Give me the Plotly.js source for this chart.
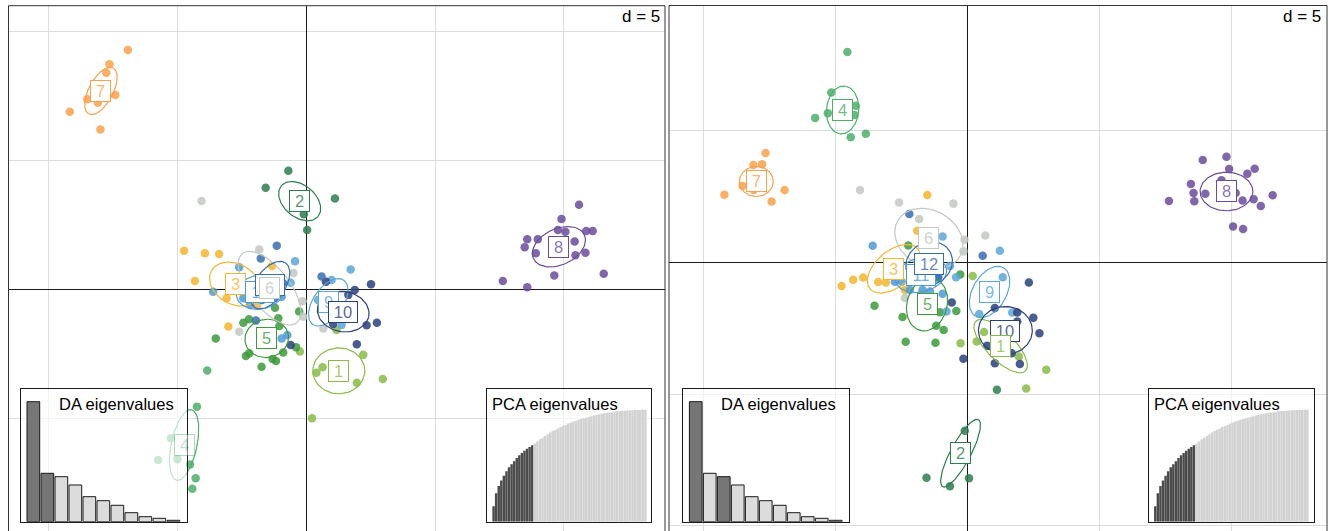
<!DOCTYPE html>
<html><head><meta charset="utf-8">
<script src="https://cdn.plot.ly/plotly-3.0.1.min.js"></script>
<style>html,body{margin:0;padding:0;background:#fff}#chart{width:1328px;height:531px}</style>
</head><body><div id="chart"></div>
<script>
// ---------------- DATA ----------------
const groups = ['1','2','3','4','5','6','7','8','9','10','11','12'];
const groupColors = ['#8abb4a','#2e7d4f','#f2b632','#4fae6b','#3d9a3d','#c2c8c2',
                     '#f8a14e','#6b4c9a','#5ba6d6','#2b3f7a','#4f9ad2','#3a6db0'];

// Left panel: LD1 (x) vs LD2 (y)
const leftX = [
  2.21,2.97,0.63,0.39,1.96,0.22,1.17,-0.25,
  -0.70,-1.58,1.11,-0.10,0.03,
  -4.75,-3.94,-3.39,-4.33,-3.10,-3.03,-1.91,-1.33,
  -4.25,-5.26,-5.76,-5.01,-4.52,-4.30,-4.43,-3.85,
  -1.22,-2.45,-2.23,-1.09,-0.28,-1.05,-3.52,-2.35,-2.22,-1.31,-1.18,-1.74,-0.90,-0.40,
  -4.07,-1.83,-0.50,-2.61,-0.15,-0.12,0.66,
  -6.93,-7.65,-7.77,-8.51,-8.10,-7.42,-9.19,-8.00,
  10.59,9.91,10.06,9.77,10.87,11.12,8.58,8.99,8.48,10.42,8.91,10.45,10.84,11.55,9.63,7.63,8.58,
  -0.44,1.72,0.98,1.37,0.45,-0.61,
  0.76,2.51,1.88,1.63,2.34,2.74,1.96,-0.61,1.04,
  -3.62,-2.61,-2.45,-2.19,-0.96,-0.74,-0.96,-2.19,-1.22,
  -1.15,-1.77,0.59,-1.96,-0.91,-1.72
];
const leftY = [
  -2.54,-3.48,-3.02,-3.23,-3.62,-5.00,-1.57,-2.41,
  4.61,3.95,3.53,2.92,2.31,
  1.50,1.41,1.38,0.33,-0.34,-1.44,-0.64,0.91,
  -4.55,-5.78,-6.62,-6.59,-6.80,-7.33,-7.74,-3.15,
  -0.71,-1.29,-1.16,-1.12,-0.86,-1.42,-1.90,-2.58,-2.48,-2.70,-2.78,-3.00,-2.45,-2.24,
  3.44,1.55,0.64,-1.64,-0.46,-1.06,-1.52,
  9.30,8.75,8.42,7.39,7.25,7.55,6.90,6.21,
  3.29,2.74,2.24,2.31,2.27,2.27,1.95,1.95,1.64,1.86,1.41,1.33,1.43,0.61,0.54,0.33,0.09,
  1.10,0.78,0.37,-1.38,-0.41,0.26,
  0.30,0.20,-0.02,-0.21,-1.39,-1.29,-2.13,-2.16,-1.34,
  -0.09,0.86,-0.34,-0.60,-0.28,-1.77,-1.90,0.17,-0.33,
  1.70,1.20,0.50,-1.21,0.25,-0.41
];
const leftGroup = [
  1,1,1,1,1,1,1,1,
  2,2,2,2,2,
  3,3,3,3,3,3,3,3,
  4,4,4,4,4,4,4,4,
  5,5,5,5,5,5,5,5,5,5,5,5,5,5,
  6,6,6,6,6,6,6,
  7,7,7,7,7,7,7,7,
  8,8,8,8,8,8,8,8,8,8,8,8,8,8,8,8,8,
  9,9,9,9,9,9,
  10,10,10,10,10,10,10,10,10,
  11,11,11,11,11,11,11,11,11,
  12,12,12,12,12,12
];
const leftCx  = [1.26,-0.26,-2.77,-4.75,-1.54,-1.43,-7.98,9.81,0.85,1.43,-1.80,-1.41];
const leftCy  = [-3.16,3.43,0.21,-6.04,-1.90,0.05,7.71,1.66,-0.50,-0.86,-0.10,0.17];
const leftA   = [1.01,0.93,1.05,1.40,0.85,1.71,1.01,1.09,1.05,1.01,0.93,1.05];
const leftB   = [0.89,0.62,0.78,0.50,0.74,0.78,0.47,0.70,0.58,0.78,0.66,0.58];
const leftAng = [0,-40,-30,78,10,-52,62,25,55,-10,10,55];

// Right panel: LD1 (x) vs LD3 (y)
const rightX = [
  0.19,-0.27,0.62,0.34,1.94,2.98,2.22,
  -0.11,-1.56,-0.67,0.05,1.11,
  -1.53,-1.91,-4.78,-4.34,-3.96,-3.39,-3.10,-2.38,
  -4.56,-5.17,-4.24,-4.29,-5.30,-5.78,-4.43,-3.86,
  -3.53,-2.47,-2.35,-1.22,-1.19,-0.91,-1.05,-0.43,-0.28,-2.25,
  -4.08,-2.60,-0.54,-1.84,0.67,-0.12,-0.16,-2.38,
  -7.66,-8.12,-7.79,-9.22,-8.53,-6.94,-7.43,-8.11,
  9.81,8.91,9.91,10.88,10.60,8.46,9.62,8.56,9.01,10.16,11.56,7.63,8.59,10.42,10.84,11.11,10.06,10.44,
  -0.95,-0.67,-0.80,-0.44,1.33,1.22,0.44,1.69,
  2.32,2.49,2.72,1.03,1.88,1.88,0.74,1.67,1.03,1.98,-0.16,-0.60,
  -3.60,-2.76,-2.50,-2.19,-1.71,-1.43,-1.15,-0.95,
  -2.21,0.57,-1.87,-1.55,-1.11
];
const rightY = [
  -0.52,-3.07,-2.65,-3.01,-3.58,-4.08,-4.79,
  -6.39,-8.17,-8.49,-8.19,-4.84,
  2.55,1.19,-0.90,-0.67,-0.58,-0.75,-0.77,-1.05,
  7.97,6.43,5.93,5.58,5.65,5.47,4.74,4.87,
  -1.65,-2.08,-3.02,-3.05,-2.41,-2.57,-1.90,-1.85,-0.47,0.63,
  2.74,2.26,2.22,1.64,1.01,0.85,0.41,-1.36,
  4.14,3.68,3.71,2.56,2.89,2.74,2.30,2.74,
  4.00,3.87,3.53,3.54,3.35,2.96,3.11,2.62,2.59,2.62,2.54,2.32,2.31,2.34,2.39,2.13,1.35,1.26,
  0.97,-0.14,-1.87,-0.57,-0.57,0.43,-1.96,-1.91,
  -0.77,-2.11,-2.69,-1.74,-1.91,-2.25,-3.17,-3.45,-3.83,-3.86,-3.66,-1.53,
  0.62,-0.74,-0.74,-1.05,-1.05,-1.11,-0.61,-1.20,
  1.83,0.24,-0.67,-0.74,-0.55
];
const rightGroup = [
  1,1,1,1,1,1,1,
  2,2,2,2,2,
  3,3,3,3,3,3,3,3,
  4,4,4,4,4,4,4,4,
  5,5,5,5,5,5,5,5,5,5,
  6,6,6,6,6,6,6,6,
  7,7,7,7,7,7,7,7,
  8,8,8,8,8,8,8,8,8,8,8,8,8,8,8,8,8,8,
  9,9,9,9,9,9,9,9,
  10,10,10,10,10,10,10,10,10,10,10,10,
  11,11,11,11,11,11,11,11,
  12,12,12,12,12
];
const rightCx  = [1.25,-0.27,-2.80,-4.74,-1.54,-1.47,-8.01,9.81,0.83,1.43,-1.77,-1.46];
const rightCy  = [-3.18,-7.24,-0.25,5.77,-1.60,0.90,3.06,2.68,-1.13,-2.59,-0.48,-0.05];
const rightA   = [1.33,1.44,1.18,0.91,1.02,1.36,0.64,1.00,1.06,1.02,0.99,0.91];
const rightB   = [0.53,0.38,0.68,0.61,0.76,1.06,0.57,0.73,0.64,0.91,0.64,0.80];
const rightAng = [-45,62,40,85,75,-30,0,0,60,0,15,30];

// Inset data
const daEigen = [120,48.4,45.0,36.7,25.0,21.0,16.4,9.0,5.0,3.4,1.4];
const leftDaAxes = [1,2];
const rightDaAxes = [1,3];
const pcaCumVar = [13.9,25.3,31.8,36.7,41.0,45.1,48.5,51.2,54.0,56.8,59.3,61.4,63.3,65.1,66.7,68.2,
  69.8,71.6,73.5,75.0,76.5,78.1,79.6,80.9,82.1,83.3,84.6,85.5,86.4,87.7,88.6,89.5,90.1,91.0,91.7,
  92.3,92.9,93.5,94.1,94.8,95.4,96.0,96.3,96.9,97.2,97.5,97.8,98.1,98.5,98.8,98.9,99.1,99.2,99.4,
  99.5,99.7,99.7,99.8,100,100];
const pcaRetained = 16;

const dText = 'd = 5';
const daTitle = 'DA eigenvalues';
const pcaTitle = 'PCA eigenvalues';

// ---------------- BUILD ----------------
const W = 1328, H = 531;
const fx = p => p / W;
const fy = p => 1 - p / H;
const FONT = 'Liberation Sans, Arial, Helvetica, sans-serif';

function rgba(hex, a) {
  const n = parseInt(hex.slice(1), 16);
  return 'rgba(' + ((n >> 16) & 255) + ',' + ((n >> 8) & 255) + ',' + (n & 255) + ',' + a + ')';
}
function ellipsePts(cx, cy, a, b, angDeg) {
  const t = angDeg * Math.PI / 180, xs = [], ys = [];
  for (let k = 0; k <= 90; k++) {
    const u = 2 * Math.PI * k / 90;
    const ex = a * Math.cos(u), ey = b * Math.sin(u);
    xs.push(cx + ex * Math.cos(t) - ey * Math.sin(t));
    ys.push(cy + ex * Math.sin(t) + ey * Math.cos(t));
  }
  return [xs, ys];
}

const panels = [
  {xa:'x', ya:'y', X:leftX, Y:leftY, G:leftGroup, cx:leftCx, cy:leftCy, A:leftA, B:leftB, ang:leftAng,
   order:[1,2,3,4,5,7,8,9,10,11,12,6], faded:[4]},
  {xa:'x2', ya:'y2', X:rightX, Y:rightY, G:rightGroup, cx:rightCx, cy:rightCy, A:rightA, B:rightB, ang:rightAng,
   order:[2,4,5,6,7,8,9,10,11,3,12,1], faded:[]}
];

const traces = [];
const annotations = [];

panels.forEach(p => {
  groups.forEach((g, gi) => {
    const xs = [], ys = [];
    p.G.forEach((gg, i) => { if (gg === gi + 1) { xs.push(p.X[i]); ys.push(p.Y[i]); } });
    traces.push({type:'scatter', mode:'markers', x:xs, y:ys, xaxis:p.xa, yaxis:p.ya,
      marker:{size:8.5, color:groupColors[gi], opacity:0.85, line:{width:0}}, hoverinfo:'skip'});
  });
  groups.forEach((g, gi) => {
    const [ex, ey] = ellipsePts(p.cx[gi], p.cy[gi], p.A[gi], p.B[gi], p.ang[gi]);
    traces.push({type:'scatter', mode:'lines', x:ex, y:ey, xaxis:p.xa, yaxis:p.ya,
      line:{color:groupColors[gi], width:1.2}, hoverinfo:'skip'});
  });
  p.order.forEach(gn => {
    const gi = gn - 1;
    const txt = groups[gi];
    annotations.push({xref:p.xa, yref:p.ya, x:p.cx[gi], y:p.cy[gi], text:txt, showarrow:false,
      font:{family:FONT, size:16.5, color:rgba(groupColors[gi], 0.8)},
      bgcolor:'#ffffff', bordercolor:groupColors[gi], borderwidth:1, borderpad:1,
      width: txt.length > 1 ? 26 : 17, height:18,
      opacity: p.faded.includes(gn) ? 0.45 : 1});
  });
});

// DA eigenvalue insets
function daTrace(xa, ya, sel) {
  return {type:'bar', x:daEigen.map((v, i) => i + 1), y:daEigen, xaxis:xa, yaxis:ya, width:0.907,
    marker:{color:daEigen.map((v, i) => sel.includes(i + 1) ? '#767676' : '#dcdcdc'),
            line:{color:'#1a1a1a', width:1}}, hoverinfo:'skip'};
}
function pcaTrace(xa, ya) {
  return {type:'bar', x:pcaCumVar.map((v, i) => i + 1), y:pcaCumVar, xaxis:xa, yaxis:ya, width:0.95,
    marker:{color:pcaCumVar.map((v, i) => i < pcaRetained ? '#4b4b4b' : '#d2d2d2'), line:{width:0}},
    hoverinfo:'skip'};
}
traces.push(daTrace('x3', 'y3', leftDaAxes));
traces.push(pcaTrace('x4', 'y4'));
traces.push(daTrace('x5', 'y5', rightDaAxes));
traces.push(pcaTrace('x6', 'y6'));

const mainAx = {showticklabels:false, ticks:'', dtick:5, tick0:0, showgrid:true, gridcolor:'#dddddd',
  gridwidth:1, zeroline:true, zerolinecolor:'#1a1a1a', zerolinewidth:1, showline:false, fixedrange:true};
const insetAx = {showticklabels:false, ticks:'', showgrid:false, zeroline:false, showline:true,
  mirror:true, linecolor:'#1a1a1a', linewidth:1, fixedrange:true};
const insetY = [fy(521.7), fy(389.3)];

const layout = {
  width:W, height:H, margin:{l:0, r:0, t:0, b:0}, showlegend:false,
  paper_bgcolor:'#ffffff', plot_bgcolor:'rgba(255,255,255,0.65)',
  xaxis: Object.assign({}, mainAx, {domain:[fx(8.5), fx(665)], range:[-11.57, 13.93], anchor:'y'}),
  yaxis: Object.assign({}, mainAx, {domain:[0, fy(5.7)], range:[-9.38, 11.02], anchor:'x'}),
  xaxis2: Object.assign({}, mainAx, {domain:[fx(669), fx(1327)], range:[-11.32, 13.62], anchor:'y2'}),
  yaxis2: Object.assign({}, mainAx, {domain:[0, fy(5.5)], range:[-10.19, 9.73], anchor:'x2'}),
  xaxis3: Object.assign({}, insetAx, {domain:[fx(20.7), fx(186.7)], range:[0.096, 11.954], anchor:'y3'}),
  yaxis3: Object.assign({}, insetAx, {domain:insetY, range:[0, 132.4], anchor:'x3'}),
  xaxis4: Object.assign({}, insetAx, {domain:[fx(487.3), fx(650.7)], range:[-1.44, 62.05], anchor:'y4'}),
  yaxis4: Object.assign({}, insetAx, {domain:insetY, range:[0, 118.2], anchor:'x4'}),
  xaxis5: Object.assign({}, insetAx, {domain:[fx(682.6), fx(848.7)], range:[0.061, 11.925], anchor:'y5'}),
  yaxis5: Object.assign({}, insetAx, {domain:insetY, range:[0, 132.4], anchor:'x5'}),
  xaxis6: Object.assign({}, insetAx, {domain:[fx(1148.9), fx(1314.1)], range:[-1.48, 62.63], anchor:'y6'}),
  yaxis6: Object.assign({}, insetAx, {domain:insetY, range:[0, 118.2], anchor:'x6'}),
  shapes: [
    {type:'line', xref:'paper', yref:'paper', x0:fx(8.5), x1:fx(665), y0:fy(5.7), y1:fy(5.7), line:{color:'#333', width:1}},
    {type:'line', xref:'paper', yref:'paper', x0:fx(8.5), x1:fx(8.5), y0:0, y1:fy(5.7), line:{color:'#333', width:1}},
    {type:'line', xref:'paper', yref:'paper', x0:fx(665), x1:fx(665), y0:0, y1:fy(5.7), line:{color:'#333', width:1}},
    {type:'line', xref:'paper', yref:'paper', x0:fx(669), x1:fx(1327), y0:fy(5.5), y1:fy(5.5), line:{color:'#333', width:1}},
    {type:'line', xref:'paper', yref:'paper', x0:fx(669), x1:fx(669), y0:0, y1:fy(5.5), line:{color:'#333', width:1}},
    {type:'line', xref:'paper', yref:'paper', x0:fx(1327), x1:fx(1327), y0:0, y1:fy(5.5), line:{color:'#333', width:1}}
  ],
  annotations: annotations.concat([
    {xref:'paper', yref:'paper', x:fx(661.5), y:fy(16.5), xanchor:'right', yanchor:'middle', text:dText,
     showarrow:false, font:{family:FONT, size:17, color:'#000'}},
    {xref:'paper', yref:'paper', x:fx(1322.6), y:fy(16.5), xanchor:'right', yanchor:'middle', text:dText,
     showarrow:false, font:{family:FONT, size:17, color:'#000'}},
    {xref:'paper', yref:'paper', x:fx(176.5), y:fy(403.5), xanchor:'right', yanchor:'middle', text:daTitle,
     showarrow:false, font:{family:FONT, size:16.5, color:'#000'}},
    {xref:'paper', yref:'paper', x:fx(838), y:fy(403.5), xanchor:'right', yanchor:'middle', text:daTitle,
     showarrow:false, font:{family:FONT, size:16.5, color:'#000'}},
    {xref:'paper', yref:'paper', x:fx(489.5), y:fy(403.5), xanchor:'left', yanchor:'middle', text:pcaTitle,
     showarrow:false, font:{family:FONT, size:16.5, color:'#000'}},
    {xref:'paper', yref:'paper', x:fx(1152), y:fy(403.5), xanchor:'left', yanchor:'middle', text:pcaTitle,
     showarrow:false, font:{family:FONT, size:16.5, color:'#000'}}
  ])
};

Plotly.newPlot('chart', traces, layout, {staticPlot:true, displayModeBar:false});
</script>
</body></html>
